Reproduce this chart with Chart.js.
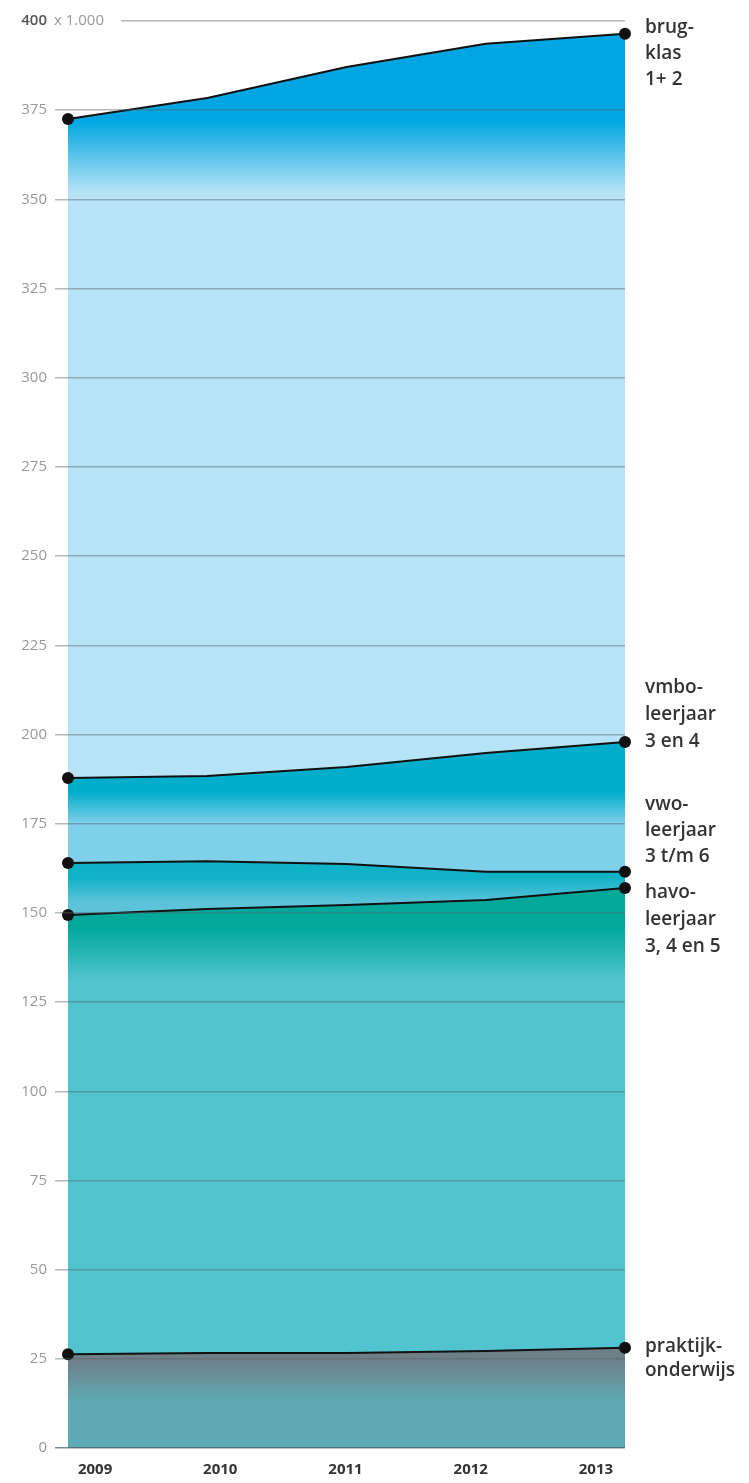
<!DOCTYPE html>
<html>
<head>
<meta charset="utf-8">
<script src="https://cdn.jsdelivr.net/npm/chart.js@4"></script>
<style>
  html, body { margin: 0; padding: 0; background: #fff; }
  #wrap { width: 749px; height: 1483px; }
</style>
</head>
<body>
<div id="wrap"><canvas id="leerlingenChart"></canvas></div>
<script>
const years = ['2009', '2010', '2011', '2012', '2013'];
const yearTicks = [2009, 2010, 2011, 2012, 2013];
const yTicks = [0, 25, 50, 75, 100, 125, 150, 175, 200, 225, 250, 275, 300, 325, 350, 375, 400];

// cumulative totals (x 1.000)
const praktijk = [26.3, 26.6, 26.6, 27.2, 28.1];
const havo = [149.4, 151.1, 152.2, 153.6, 157.0];
const vwo = [164.0, 164.5, 163.7, 161.5, 161.5];
const vmbo = [187.8, 188.4, 190.9, 194.8, 197.9];
const brugklas = [372.5, 378.4, 387.1, 393.6, 396.4];

const labelLines = {
  brugklas: ['brug-', 'klas', '1+ 2'],
  vmbo: ['vmbo-', 'leerjaar', '3 en 4'],
  vwo: ['vwo-', 'leerjaar', '3 t/m 6'],
  havo: ['havo-', 'leerjaar', '3, 4 en 5'],
  praktijk: ['praktijk-', 'onderwijs']
};

// vertical gradient: dark near the top line, fading lower down
function bandFill(dark, light, fromVal, toVal) {
  return (context) => {
    const chart = context.chart;
    const area = chart.chartArea;
    if (!area) return light;
    const y = chart.scales.y;
    const y0 = y.getPixelForValue(fromVal);
    const y1 = y.getPixelForValue(toVal);
    const g = chart.ctx.createLinearGradient(0, y0, 0, y1);
    g.addColorStop(0, dark);
    g.addColorStop(1, light);
    return g;
  };
}

function lineSet(label, data, fill, bg) {
  return {
    label: label,
    data: data,
    fill: fill,
    backgroundColor: bg,
    borderColor: '#111',
    borderWidth: 2,
    tension: 0,
    pointRadius: [6, 0, 0, 0, 6],
    pointBackgroundColor: '#111',
    pointBorderWidth: 0,
    pointHoverRadius: 0
  };
}

const rightLabels = {
  id: 'rightLabels',
  afterDraw(chart) {
    const ctx = chart.ctx;
    const y = chart.scales.y;
    const x0 = chart.chartArea.right + 20;
    ctx.save();
    ctx.fillStyle = '#333';
    ctx.font = '600 19px "Open Sans"';
    ctx.textBaseline = 'middle';
    ctx.textAlign = 'left';
    const put = (lines, value, anchorIndex, lh, shift) => {
      const py = y.getPixelForValue(value) + shift;
      lines.forEach((t, i) => ctx.fillText(t, x0, py + (i - anchorIndex) * lh));
    };
    put(labelLines.brugklas, brugklas[4], 0, 26, -6);
    put(labelLines.vmbo, vmbo[4], 2, 27, 0);
    put(labelLines.vwo, vwo[4], 2, 26, -15);
    put(labelLines.havo, havo[4], 0, 27, 5);
    put(labelLines.praktijk, praktijk[4], 0, 24, -1);

    // "x 1.000" next to the top tick
    const ty = y.getPixelForValue(400);
    ctx.fillStyle = '#fff';
    ctx.fillRect(49, ty - 9, 72, 18);
    ctx.fillStyle = '#999';
    ctx.font = '15px "Open Sans"';
    ctx.fillText('x 1.000', 54, ty);
    ctx.restore();
  }
};

new Chart(document.getElementById('leerlingenChart'), {
  type: 'line',
  data: {
    labels: years,
    datasets: [
      lineSet('praktijkonderwijs', praktijk, 'origin', bandFill('#6f7f87', '#5eaab4', 25, 13)),
      lineSet('havo', havo, '-1', bandFill('#00a89a', '#52c4cf', 146, 131)),
      lineSet('vwo', vwo, '-1', bandFill('#0fb2c6', '#5cc3d9', 160, 153)),
      lineSet('vmbo', vmbo, '-1', bandFill('#00aecb', '#7fd0e9', 184, 175)),
      lineSet('brugklas', brugklas, '-1', bandFill('#00a6e1', '#b7e3f6', 372, 352))
    ]
  },
  options: {
    responsive: true,
    maintainAspectRatio: false,
    animation: { duration: 0 },
    layout: { padding: { top: 21, right: 124, left: 0, bottom: 0 } },
    plugins: {
      legend: { display: false },
      tooltip: { enabled: false }
    },
    scales: {
      x: {
        display: false,
        offset: false
      },
      years: {
        type: 'linear',
        position: 'bottom',
        min: 2008.784,
        max: 2013.232,
        afterBuildTicks: (scale) => { scale.ticks = yearTicks.map(v => ({ value: v })); },
        afterFit: (scale) => { scale.height = 35; },
        grid: { display: false, drawTicks: false },
        border: { display: false },
        ticks: {
          color: '#333',
          font: { family: 'Open Sans', size: 15, weight: 'bold' },
          padding: 13,
          maxRotation: 0,
          callback: (v) => String(v)
        }
      },
      y: {
        min: 0,
        max: 400,
        afterBuildTicks: (scale) => { scale.ticks = yTicks.map(v => ({ value: v })); },
        afterFit: (scale) => { scale.width = 68; },
        border: { display: false },
        grid: {
          z: 1,
          color: (c) => c.tick && c.tick.value === 0 ? 'rgba(70, 90, 100, 0.7)' : 'rgba(85, 100, 108, 0.45)',
          lineWidth: 1.5,
          tickLength: 13
        },
        ticks: {
          color: (c) => c.tick && c.tick.value === 400 ? '#555' : '#999',
          font: (c) => ({ family: 'Open Sans', size: 15, weight: c.tick && c.tick.value === 400 ? '600' : 'normal' }),
          padding: 8
        }
      }
    }
  },
  plugins: [rightLabels]
});
</script>
</body>
</html>
